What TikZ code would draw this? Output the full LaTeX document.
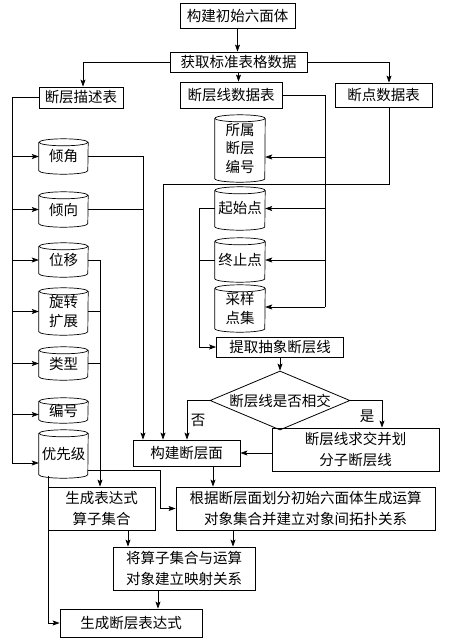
\documentclass[tikz,border=0pt]{standalone}
\usepackage{fontspec}
\newfontfamily\cjk{Noto Sans CJK SC}
\usetikzlibrary{shapes.geometric,arrows.meta,calc}
\newcommand\bx{\cjk\fontsize{14.5}{21}\selectfont}
\newcommand\cx{\cjk\fontsize{14.5}{18.5}\selectfont}
\newcommand\cylshape[3]{%
  \draw[cylline] ($(#1.north)+(0,-#3)$) ellipse [x radius=#2, y radius=#3];
  \draw[cylline] ($(#1.north west)+(0,-#3)$) -- ($(#1.south west)+(0,#3)$)
    arc[start angle=180, end angle=360, x radius=#2, y radius=#3]
    -- ($(#1.north east)+(0,-#3)$);}
\begin{document}
\begin{tikzpicture}[x=1pt,y=1pt,
  box/.style={draw, line width=0.8pt, inner sep=0pt, align=center, font=\bx},
  cyl/.style={inner sep=0pt, align=center, font=\cx},
  cylline/.style={line width=0.7pt},
  ln/.style={line width=0.7pt},
  arr/.style={line width=0.7pt, -{Stealth[length=7pt,width=5pt,inset=1.5pt]}},
  lab/.style={font=\bx, inner sep=0pt}]
\useasboundingbox (0,0) rectangle (448,-643);
% top boxes
\node[box, minimum width=115pt, minimum height=25pt] (n1) at (237.5,-15.5) {构建初始六面体};
\node[box, minimum width=137pt, minimum height=20pt] (n2) at (238.5,-62) {获取标准表格数据};
\node[box, minimum width=84pt, minimum height=21pt] (n3) at (81,-97.5) {断层描述表};
\node[box, minimum width=102pt, minimum height=26pt] (n4) at (231,-95) {断层线数据表};
\node[box, minimum width=97pt, minimum height=24pt] (n5) at (383.5,-95) {断点数据表};
% left cylinders
\node[cyl, minimum width=49pt, minimum height=35pt] (c1) at (63.5,-156.5) {倾角};
\node[cyl, minimum width=49pt, minimum height=35pt] (c2) at (63.5,-209.5) {倾向};
\node[cyl, minimum width=49pt, minimum height=34pt] (c3) at (63.5,-260) {位移};
\node[cyl, minimum width=49pt, minimum height=47pt] (c4) at (63.5,-311.5) {旋转\\扩展};
\node[cyl, minimum width=49pt, minimum height=33pt] (c5) at (63.5,-363.5) {类型};
\node[cyl, minimum width=49pt, minimum height=25pt] (c6) at (63.5,-410.5) {编号};
\node[cyl, minimum width=49pt, minimum height=48pt] (c7) at (63.5,-454) {优先级};
% right cylinders
\node[cyl, minimum width=50pt, minimum height=67pt] (d1) at (240,-148.5) {所属\\断层\\编号};
\node[cyl, minimum width=50pt, minimum height=43pt] (d2) at (240,-208.5) {起始点};
\node[cyl, minimum width=50pt, minimum height=44pt] (d3) at (240,-260) {终止点};
\node[cyl, minimum width=50pt, minimum height=47pt] (d4) at (240,-308.5) {采样\\点集};
\foreach \n in {c1,c2,c3,c4,c5,c6,c7} {\cylshape{\n}{24.5}{3.5}}
\foreach \n in {d1,d2,d3,d4} {\cylshape{\n}{25}{3.5}}
% process boxes
\node[box, minimum width=127pt, minimum height=20pt] (p1) at (280,-347) {提取抽象断层线};
\node[draw, diamond, line width=0.8pt, aspect=2.37, inner sep=0pt, minimum width=140pt, minimum height=59pt, font=\bx] (dia) at (280,-400.5) {断层线是否相交};
\node[box, minimum width=167pt, minimum height=43pt] (b1) at (355.5,-449.5) {断层线求交并划\\分子断层线};
\node[box, minimum width=107pt, minimum height=26pt] (b2) at (186.5,-453) {构建断层面};
\node[box, minimum width=107pt, minimum height=43pt] (b3) at (101.5,-508.5) {生成表达式\\算子集合};
\node[box, minimum width=259pt, minimum height=43pt] (b4) at (305.5,-508.5) {根据断层面划分初始六面体生成运算\\对象集合并建立对象间拓扑关系};
\node[box, minimum width=142pt, minimum height=43pt] (b5) at (184,-568.5) {将算子集合与运算\\对象建立映射关系};
\node[box, minimum width=142pt, minimum height=28pt] (b6) at (131,-623) {生成断层表达式};
% helper coordinates
\coordinate (tr) at (12,0);
\coordinate (v1) at (143,0);
\coordinate (v2) at (163,0);
\coordinate (v3) at (325,0);
\coordinate (v4) at (199,0);
\coordinate (v5) at (213,0);
\coordinate (v6) at (100,0);
\coordinate (v7) at (160,0);
\coordinate (v8) at (48,0);
\coordinate (v9) at (158,0);
\coordinate (v10) at (128,0);
\coordinate (v11) at (233,0);
\coordinate (v12) at (389,0);
\coordinate (vn) at (187,0);
\coordinate (vy) at (382,0);
\coordinate (h1) at (0,-184);
\coordinate (rj) at (83,0);
% top connectors
\draw[arr] (n1.south) -- (n1.south |- n2.north);
\draw[arr] (n2.south) -- (n2.south |- n4.north);
\draw[arr] (n2.west) -| (rj |- n3.north);
\draw[arr] (n2.east) -| (v12 |- n5.north);
% left trunk
\draw[ln] (n3.west) -- (tr |- n3.west) -- ($(tr |- c7.west)+(0,-9)$);
\foreach \n in {c1,c2,c3,c4,c5} {\draw[arr] (tr |- \n.west) -- (\n.west);}
\draw[arr] ($(tr |- c6.west)+(0,-4)$) -- ($(c6.west)+(0,-4)$);
\draw[arr] ($(tr |- c7.west)+(0,-9)$) -- ($(c7.west)+(0,-9)$);
% dip & dip direction -> build fault surface
\draw[arr] (c1.east) -| (v1 |- b2.north);
\draw[ln] (c2.east) -- (v1 |- c2.east);
% displacement, rotation, type -> operator set
\draw[arr] (c3.east) -| (v6 |- b3.north);
\draw[ln] (c4.east) -- (v6 |- c4.east);
\draw[ln] (c5.east) -- (v6 |- c5.east);
% priority
\draw[arr] ($(c7.east)+(0,-16)$) -| (v7 |- b4.west) -- (b4.west);
\draw[arr] ($(v8 |- c7.south)+(0,2)$) -- (v8 |- b6.west) -- (b6.west);
% fault line table -> cylinders
\draw[ln] (n4.east) -| ($(v3 |- d4.east)+(0,1.5)$);
\draw[arr] ($(v3 |- d1.east)+(0,-8.5)$) -- ($(d1.east)+(0,-8.5)$);
\draw[arr] (v3 |- d2.east) -- (d2.east);
\draw[arr] (v3 |- d3.east) -- (d3.east);
\draw[arr] ($(v3 |- d4.east)+(0,1.5)$) -- ($(d4.east)+(0,1.5)$);
% breakpoint table -> build fault surface
\draw[arr] (v12 |- n5.south) |- (v2 |- h1) -- (v2 |- b2.north);
% start/end points -> extract
\draw[arr] (d2.west) -| (v4 |- p1.west) -- (p1.west);
\draw[ln] (d3.west) -- (v4 |- d3.west);
% decision
\draw[arr] (p1.south) -- (dia.north);
\draw[arr] (dia.west) -| (vn |- b2.north);
\draw[arr] (dia.east) -| (vy |- b1.north);
\node[lab] (no) at (198,-420) {否};
\node[lab] (yes) at (367,-416) {是};
\draw[arr] (b1.west |- b2.east) -- (b2.east);
\draw[arr] (v5 |- b2.south) -- (v5 |- b4.north);
% bottom
\draw[arr] (v10 |- b3.south) -- (v10 |- b5.north);
\draw[arr] (v11 |- b4.south) -- (v11 |- b5.north);
\draw[arr] (v9 |- b5.south) -- (v9 |- b6.north);
\end{tikzpicture}
\end{document}
